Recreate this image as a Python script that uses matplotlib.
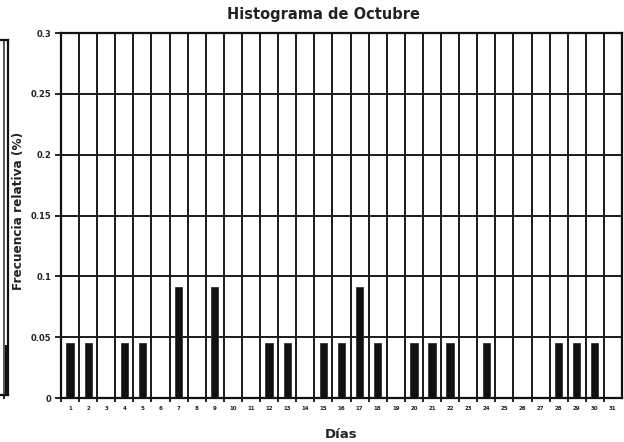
# histograma_octubre.py
# Frecuencia relativa de eventos por día, mes de octubre

import matplotlib
matplotlib.use("Agg")
import matplotlib.pyplot as plt
from matplotlib.ticker import FixedLocator

dias = [1, 2, 3, 4, 5, 6, 7, 8, 9, 10, 11, 12, 13, 14, 15, 16,
        17, 18, 19, 20, 21, 22, 23, 24, 25, 26, 27, 28, 29, 30, 31]
frecuencia = [0.0455, 0.0455, 0, 0.0455, 0.0455, 0, 0.0909, 0, 0.0909, 0, 0,
              0.0455, 0.0455, 0, 0.0455, 0.0455, 0.0909, 0.0455, 0, 0.0455,
              0.0455, 0.0455, 0, 0.0455, 0, 0, 0, 0.0455, 0.0455, 0.0455, 0]
yticks = [0, 0.05, 0.1, 0.15, 0.2, 0.25, 0.3]
ytick_labels = ["0", "0.05", "0.1", "0.15", "0.2", "0.25", "0.3"]

# panel anterior (septiembre), sólo queda el borde derecho en la página
frag_dias = [29, 30]
frag_frec = [0, 0.042]

W, H = 624, 442
fig = plt.figure(figsize=(W / 100, H / 100), dpi=100)
fig.patch.set_facecolor("white")


def estilo_panel(ax, n, gris="#1a1a1a"):
    ax.set_xlim(0.5, n + 0.5)
    ax.set_ylim(0, 0.3)
    ax.yaxis.set_major_locator(FixedLocator(yticks))
    ax.xaxis.set_minor_locator(FixedLocator([d + 0.5 for d in range(n)]))
    ax.grid(axis="y", which="major", color=gris, lw=1.4)
    ax.grid(axis="x", which="minor", color=gris, lw=1.4)
    ax.set_axisbelow(True)
    for s in ax.spines.values():
        s.set_color("#111111")
        s.set_linewidth(1.6)
    ax.tick_params(axis="x", which="major", length=0, pad=6)
    ax.tick_params(axis="x", which="minor", length=3, width=1.2, direction="out")
    ax.tick_params(axis="y", length=4, width=1.2, direction="out", pad=3)


# fragmento del panel izquierdo
axf = fig.add_axes([-0.2, 1 - 395 / H, 0.2 + 8 / W, (395 - 40) / H])
estilo_panel(axf, 30, gris="#555555")
axf.bar(frag_dias, frag_frec, width=0.4, color="#111111")
axf.set_xticks([])
axf.set_yticks([])

# panel principal
ax = fig.add_axes([61 / W, 1 - 398 / H, 561 / W, 365 / H])
estilo_panel(ax, len(dias))
ax.bar(dias, frecuencia, width=0.4, color="#111111", edgecolor="#333333", lw=0.6, zorder=3)

ax.set_xticks(dias)
ax.set_xticklabels([str(d) for d in dias], fontsize=4, fontweight="bold", color="#222222")
ax.set_yticks(yticks)
ax.set_yticklabels(ytick_labels, fontsize=6, fontweight="bold", color="#222222")

fig.text(323 / W, 1 - 15 / H, "Histograma de Octubre", ha="center", va="center",
         fontsize=10.5, fontweight="bold", color="#222222")
fig.text(341 / W, 1 - 434 / H, "Días", ha="center", va="center",
         fontsize=9.5, fontweight="bold", color="#222222")
fig.text(19 / W, 1 - 211 / H, "Frecuencia relativa (%)", ha="center", va="center",
         rotation=90, fontsize=8.7, fontweight="bold", color="#222222")

fig.savefig("out.png", dpi=100)
